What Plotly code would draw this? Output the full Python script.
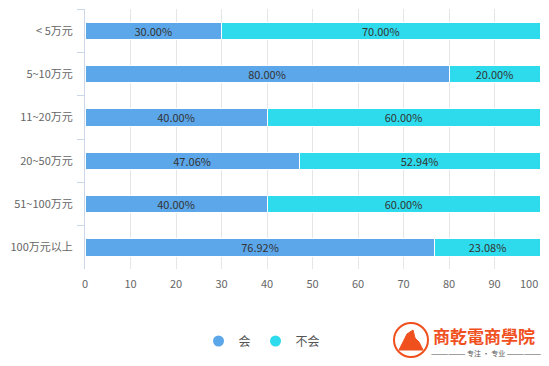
import plotly.graph_objects as go

categories = ["< 5万元", "5~10万元", "11~20万元", "20~50万元", "51~100万元", "100万元以上"]
hui = [30.00, 80.00, 40.00, 47.06, 40.00, 76.92]
bu_hui = [70.00, 20.00, 60.00, 52.94, 60.00, 23.08]
series_names = ["会", "不会"]
colors = ["#5ca7ea", "#2edbec"]
x_ticks = [0, 10, 20, 30, 40, 50, 60, 70, 80, 90, 100]
x_tick_labels = ["0", "10", "20", "30", "40", "50", "60", "70", "80", "90", "100"]

FONT = "Noto Sans CJK SC"
OFF = 8  # default page body margin
W, H = 549 - OFF, 366 - OFF
# plot area in page pixels (from reference)
PL, PR, PT, PB = 85, 540, 9, 269
L, R, T, B = PL - OFF, W - (PR - OFF), PT - OFF, H - (PB - OFF)
PW, PH = PR - PL, PB - PT


def px(x):
    return (x - PL) / PW


def py(y):
    return (PB - y) / PH


fig = go.Figure()
for name, vals, col in zip(series_names, [hui, bu_hui], colors):
    fig.add_trace(go.Bar(
        y=categories, x=vals, orientation="h", name=name,
        marker=dict(color=col, line=dict(color="#ffffff", width=1)),
        text=[f"{v:.2f}%" for v in vals], textposition="inside",
        insidetextanchor="middle", constraintext="none", textangle=0,
        textfont=dict(color="#333333", size=11, family=FONT),
        showlegend=False, hoverinfo="skip",
    ))
    fig.add_trace(go.Scatter(
        x=[None], y=[None], mode="markers", name=name,
        marker=dict(color=col, size=11, symbol="circle"),
    ))

# last tick label is pulled inside the chart (as in the reference), drawn below
shown_labels = x_tick_labels[:-1] + [""]

fig.update_layout(
    width=W, height=H,
    margin=dict(l=L, r=R, t=T, b=B, autoexpand=False),
    barmode="stack", bargap=0.6,
    plot_bgcolor="#ffffff", paper_bgcolor="#ffffff",
    font=dict(family=FONT, size=11, color="#666666"),
    legend=dict(orientation="h", x=px(262), xanchor="center", y=py(341), yanchor="middle",
                font=dict(size=12, color="#555555"),
                traceorder="normal"),
    xaxis=dict(range=[0, 100], tickvals=x_ticks, ticktext=shown_labels,
               showgrid=True, gridcolor="#e6e6e6",
               gridwidth=1, zeroline=False, showline=False, ticks="", automargin=False,
               ticklabelstandoff=7,
               tickfont=dict(size=11, color="#666666"), fixedrange=True),
    yaxis=dict(autorange="reversed", showline=True, linecolor="#ccd6eb", linewidth=1,
               ticks="outside", tickson="boundaries", ticklen=7, tickcolor="#ccd6eb",
               automargin=False, ticklabelstandoff=9,
               tickfont=dict(size=11, color="#666666"), fixedrange=True),
)

fig.add_annotation(xref="x", yref="paper", x=x_ticks[-1], y=py(283),
                   xanchor="right", yanchor="middle", text=x_tick_labels[-1],
                   showarrow=False, font=dict(size=11, color="#666666", family=FONT))

# Logo watermark (approximation)
LOGO = "#f0501e"
fig.add_shape(type="circle", xref="paper", yref="paper",
              x0=px(394), x1=px(428), y0=py(357), y1=py(323),
              line=dict(color=LOGO, width=2), fillcolor="rgba(0,0,0,0)")
fig.add_shape(type="path", xref="paper", yref="paper",
              path=(f"M {px(399)},{py(350)} L {px(423)},{py(350)} L {px(419)},{py(342)} "
                    f"L {px(415)},{py(338)} L {px(413)},{py(330)} L {px(407)},{py(334)} "
                    f"L {px(403)},{py(342)} Z"),
              line=dict(color=LOGO, width=1), fillcolor=LOGO)
fig.add_annotation(xref="paper", yref="paper", x=px(484), y=py(335),
                   xanchor="center", yanchor="middle",
                   text="<b>商乾電商學院</b>", showarrow=False,
                   font=dict(size=17, color=LOGO, family=FONT))
fig.add_annotation(xref="paper", yref="paper", x=px(486), y=py(353),
                   xanchor="center", yanchor="middle",
                   text="—————— 专注 · 专业 ——————", showarrow=False,
                   font=dict(size=7, color="#555555", family=FONT))

fig.write_html("out.html")
